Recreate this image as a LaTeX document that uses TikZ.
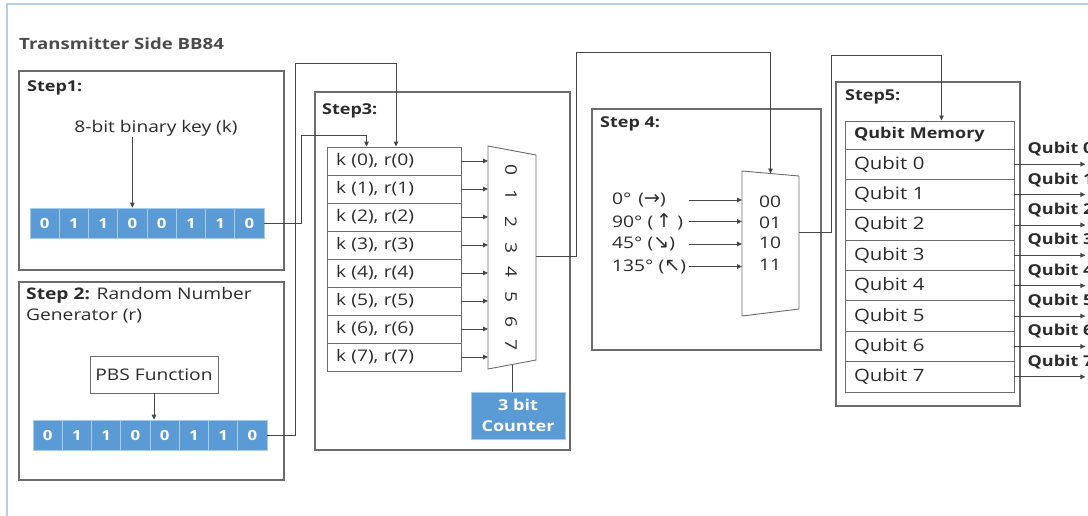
\documentclass[tikz,border=0pt]{standalone}
\usepackage{fontspec}
\setmainfont{Open Sans}[FakeStretch=1.2]
\newfontfamily\symfont{DejaVu Sans}
\usetikzlibrary{arrows.meta, calc, positioning}
\definecolor{bbBlue}{HTML}{5B9BD5}
\definecolor{bbEdge}{HTML}{A9CBEA}
\definecolor{bbFrame}{HTML}{B4CCE4}
\definecolor{bbLine}{HTML}{6B6B6B}
\definecolor{bbWire}{HTML}{474747}
\definecolor{bbText}{HTML}{2B2B2B}
\newcommand{\bbsize}[1]{\fontsize{#1}{#1}\selectfont}
\newcommand{\arrsym}[1]{{\symfont\bbsize{19}#1}}
\tikzset{
  stepbox/.style  = {draw=bbLine, line width=1.3pt},
  conn/.style     = {bbWire, line width=0.9pt},
  arr/.style      = {conn, -{Triangle[length=5pt,width=4.5pt]}},
  lbl/.style      = {font=\bbsize{16}, text=bbText, inner sep=1pt},
  titlelbl/.style = {font=\bbsize{15.5}\bfseries, text=bbText!85, inner sep=0pt, anchor=west},
  steplbl/.style  = {font=\bbsize{15}\bfseries, text=bbText, inner sep=0pt, anchor=west},
  bitcell/.style  = {fill=bbBlue, draw=bbEdge, line width=0.6pt, text=white,
                     font=\bbsize{14}\bfseries, minimum width=29.25pt,
                     minimum height=30pt, inner sep=0pt},
  rowcell/.style  = {draw=bbLine, line width=0.9pt, minimum height=28pt,
                     text width=116pt, inner xsep=9pt, inner ysep=0pt,
                     align=left, font=\bbsize{16}, text=bbText},
  qcell/.style    = {rowcell, minimum height=30.375pt, text width=151pt,
                     font=\bbsize{17}},
  pbsbox/.style   = {draw=bbLine, line width=0.9pt, minimum width=128pt,
                     minimum height=37pt, font=\bbsize{16}, text=bbText},
  counter/.style  = {fill=bbBlue, draw=bbEdge, line width=0.6pt, text=white,
                     font=\fontsize{15}{21}\selectfont\bfseries, align=center,
                     minimum width=94pt, minimum height=47pt},
  muxshape/.style = {draw=bbLine, line width=0.9pt},
  qlbl/.style     = {font=\bbsize{15}\bfseries, text=bbText, inner sep=0pt, anchor=west},
}
\begin{document}
\begin{tikzpicture}[x=1pt, y=-1pt]
  \useasboundingbox (0,0) rectangle (1088,515);
  \draw[bbFrame, line width=1.5pt] (7,4) rectangle (1120,540);
  \node[titlelbl] (title) at (19,44) {Transmitter Side BB84};

  % step 1: the key
  \draw[stepbox] (19,71) rectangle (284,270);
  \node[steplbl] (st1) at (27,88) {Step1:};
  \node[lbl] (kl) at (156,128) {8-bit binary key (k)};
  \foreach \b [count=\i from 0] in {0,1,1,0,0,1,1,0}
    \node[bitcell] (k\i) at ({30+29.25*(\i+0.5)},223) {\b};
  \draw[arr] (kl.south -| k3) -- (k3.north);

  % step 2: random bases
  \draw[stepbox] (19,282) rectangle (284,480);
  \node[lbl, anchor=north west, align=left, font=\fontsize{16}{21}\selectfont]
    (st2) at (25,286) {\textbf{Step 2:} Random Number\\Generator (r)};
  \node[pbsbox] (pbs) at (154,374.5) {PBS Function};
  \foreach \b [count=\i from 0] in {0,1,1,0,0,1,1,0}
    \node[bitcell] (r\i) at ({33+29.25*(\i+0.5)},435) {\b};
  \draw[arr] (pbs.south) -- (pbs.south |- r4.north);

  % step 3: pairs and 8:1 mux
  \draw[stepbox] (315,92) rectangle (570,450);
  \node[steplbl] (st3) at (322,111) {Step3:};
  \foreach \i in {0,...,7}
    \node[rowcell] (t\i) at (394,{161+28*\i}) {k (\i), r(\i)};
  \coordinate (m3tl) at (488,146);
  \coordinate (m3tr) at (536,155);
  \coordinate (m3br) at (536,360);
  \coordinate (m3bl) at (488,369);
  \draw[muxshape] (m3tl) -- (m3tr) -- (m3br) -- (m3bl) -- cycle;
  \foreach \i/\y in {0/170,1/195,2/222,3/248,4/272,5/297,6/322,7/345}
    \node[lbl, rotate=-90] (d\i) at (511,\y) {\i};
  \foreach \i in {0,...,7}
    \draw[arr] (t\i.east) -- (t\i.east -| m3tl);
  \node[counter] (cnt) at (518,415.5) {3 bit\\Counter};
  \coordinate (m3b) at ($(m3bl)!0.5!(m3br)$);
  \draw[conn] (m3b) -- (m3b |- cnt.north);

  \coordinate (kin) at ($(t0.north west)+(40,0)$);
  \coordinate (rin) at ($(t0.north)+(2,0)$);
  \draw[arr] (k7.east) -- ++(37,0) |- ($(kin)+(0,-11)$) -- (kin);
  \draw[arr] (r7.east) -- ++(28,0) |- ($(rin)+(0,-83)$) -- (rin);

  % step 4: polarisation select
  \draw[stepbox] (592,109) rectangle (821,350);
  \node[steplbl] (st4) at (600,124) {Step 4:};
  \coordinate (m4tl) at (742,171);
  \coordinate (m4tr) at (799,176);
  \coordinate (m4br) at (799,309);
  \coordinate (m4bl) at (742,316);
  \draw[muxshape] (m4tl) -- (m4tr) -- (m4br) -- (m4bl) -- cycle;
  \foreach \s/\y [count=\i from 0] in {00/202,01/223,10/243,11/265}
    \node[lbl] (p\i) at (770,\y) {\s};
  \foreach \t/\y [count=\i from 0] in
      {{0°\hspace{7pt}(\arrsym{→})}/200,
       {90° (\,\arrsym{↑}\,\,)}/221.5,
       {45° (\arrsym{↘})}/244,
       {135° (\arrsym{↖})}/266.5}
    \node[lbl, anchor=west, text width=74pt, inner sep=3pt] (a\i) at (609,\y) {\t};
  \foreach \i in {0,...,3}
    \draw[arr] (a\i.east) -- (a\i.east -| m4tl);
  \coordinate (m4in) at ($(m4tl)!0.5!(m4tr)$);
  \coordinate (m3out) at (536,256);
  \draw[arr] (m3out) -- ++(40,0) |- ($(m4in)+(0,-121)$) -- (m4in);

  % step 5: qubit memory
  \draw[stepbox] (836,82) rectangle (1020,406);
  \node[steplbl] (st5) at (845,97) {Step5:};
  \node[rowcell, text width=151pt, font=\bbsize{15}\bfseries] (qh) at (929.5,135) {Qubit Memory};
  \foreach \i in {0,...,7}
    \node[qcell] (q\i) at (929.5,{164.2+30.375*\i}) {Qubit \i};
  \foreach \i in {0,...,7} {
    \draw[arr] (q\i.east) -- ++(71,0);
    \node[qlbl] (o\i) at ($(q\i.east)+(13,-15)$) {Qubit \i};
  }
  \coordinate (qin) at ($(qh.north)+(12,0)$);
  \coordinate (m4out) at (799,232);
  \draw[arr] (m4out) -- ++(32,0) |- ($(qin)+(0,-65)$) -- (qin);
\end{tikzpicture}
\end{document}
